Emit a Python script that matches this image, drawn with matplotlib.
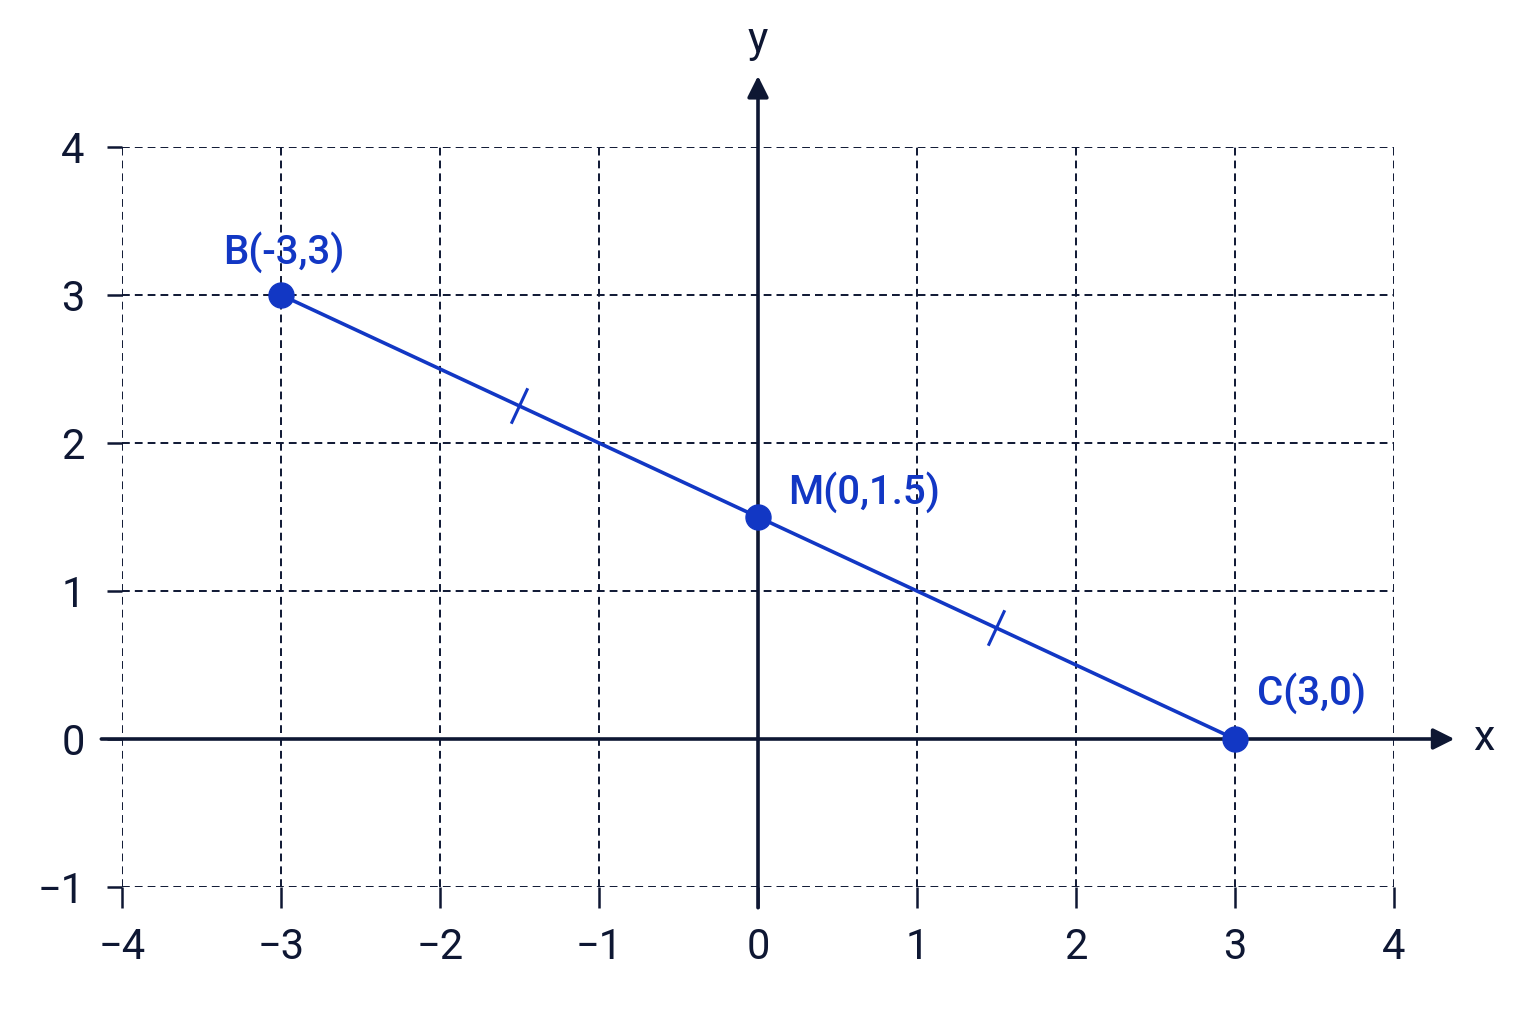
import numpy as np
from matplotlib import pyplot as plt

# data: the three labelled points and the axis ticks
names = ['B', 'M', 'C']
px = [-3, 0, 3]
py = [3, 1.5, 0]
xticks = [-4, -3, -2, -1, 0, 1, 2, 3, 4]
yticks = [-1, 0, 1, 2, 3, 4]

blue = '#1237c4'
navy = '#0e1733'

plt.rcParams['font.family'] = ['Roboto', 'DejaVu Sans']

fig = plt.figure(figsize=(15.36, 10.24), dpi=100)
ax = fig.add_axes([122/1536, 1-887/1024, 1272/1536, 740/1024])
ax.set_xlim(-4, 4)
ax.set_ylim(-1, 4)

# dashed grid, also on the outer border
for s in ax.spines.values():
    s.set_visible(False)
ax.set_xticks(xticks)
ax.set_yticks(yticks)
ax.set_xticklabels([str(t).replace('-', '\u2212') for t in xticks])
ax.set_yticklabels([str(t).replace('-', '\u2212') for t in yticks])
ax.grid(True, linestyle=(0, (4, 2.6)), color=navy, linewidth=1.4)
ax.tick_params(axis='x', length=15, width=1.8, color=navy, pad=14,
               labelsize=30, labelcolor=navy)
ax.tick_params(axis='y', length=11, width=1.8, color=navy, pad=16,
               labelsize=30, labelcolor=navy)

# axis arrows
ax.annotate('', xy=(4.38, 0), xytext=(-4.13, 0), annotation_clip=False,
            arrowprops=dict(arrowstyle='-|>', color=navy, lw=2.6,
                            mutation_scale=32, shrinkA=0, shrinkB=0))
ax.annotate('', xy=(0, 4.48), xytext=(0, -1.14), annotation_clip=False,
            arrowprops=dict(arrowstyle='-|>', color=navy, lw=2.6,
                            mutation_scale=32, shrinkA=0, shrinkB=0))
ax.text(4.5, 0, 'x', fontsize=31, color=navy, ha='left', va='center', clip_on=False)
ax.text(0, 4.72, 'y', fontsize=31, color=navy, ha='center', va='center', clip_on=False)

# segment and points
ax.plot(px, py, color=blue, lw=2.6, clip_on=False, zorder=4)
ax.plot(px, py, 'o', color=blue, markersize=18, clip_on=False, zorder=5)

# equal-length tick marks at the middle of each half
sx = 1272/8.0
sy = 740/5.0
for i in range(2):
    mx = (px[i] + px[i+1]) / 2
    my = (py[i] + py[i+1]) / 2
    dx = (px[i+1] - px[i]) * sx
    dy = (py[i+1] - py[i]) * sy
    n = np.hypot(dx, dy)
    ux, uy = -dy/n*18, dx/n*18
    ax.plot([mx - ux/sx, mx + ux/sx], [my - uy/sy, my + uy/sy],
            color=blue, lw=2.2, zorder=4)

labels = [f'{n}({x:g},{y:g})' for n, x, y in zip(names, px, py)]
ax.text(px[0] + 0.02, py[0] + 0.29, labels[0], fontsize=29, fontweight='medium',
        color=blue, ha='center', va='center')
ax.text(px[1] + 0.19, py[1] + 0.17, labels[1], fontsize=29, fontweight='medium',
        color=blue, ha='left', va='center')
ax.text(px[2] + 0.14, py[2] + 0.31, labels[2], fontsize=29, fontweight='medium',
        color=blue, ha='left', va='center')

fig.savefig('out.png', dpi=100, facecolor='white')
